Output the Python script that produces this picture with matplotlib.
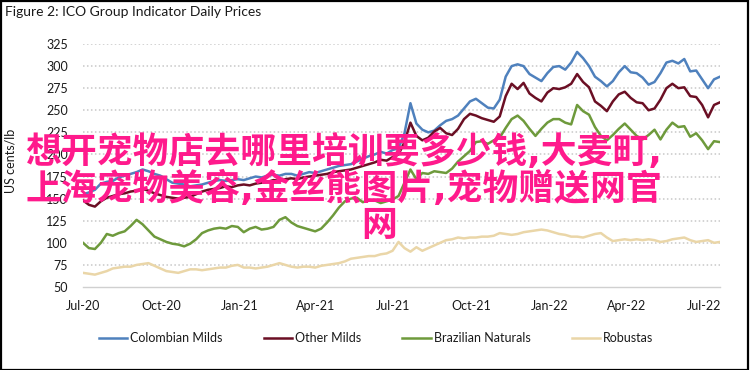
import matplotlib
matplotlib.use("Agg")
import matplotlib.pyplot as plt
import matplotlib.dates as mdates
import pandas as pd
from matplotlib.patches import Rectangle

# weekly readings (US cents/lb), starting 2020-07-01
colombian = [155, 157, 160, 167, 169, 170, 174, 176, 178, 180, 183, 181,
             178, 176, 172, 168, 167, 166, 164, 165, 166, 168, 170, 171,
             170, 171, 172, 171, 173, 175, 174, 176, 177, 176, 178, 178,
             176, 178, 180, 179, 181, 183, 185, 187, 188, 189, 192, 195,
             198, 200, 203, 201, 205, 207, 224, 258, 235, 228, 225, 227,
             233, 238, 240, 244, 252, 260, 263, 258, 253, 252, 262, 288,
             300, 302, 300, 291, 287, 283, 292, 299, 300, 296, 304, 316,
             309, 300, 288, 283, 277, 283, 293, 300, 293, 292, 287, 279,
             282, 292, 304, 306, 303, 308, 294, 295, 285, 275, 285, 288]
other_milds = [148, 143, 141, 147, 151, 153, 155, 156, 158, 159, 161, 159,
               156, 154, 152, 151, 150, 151, 152, 155, 158, 160, 161, 162,
               164, 163, 165, 166, 165, 167, 168, 169, 171, 170, 172, 173,
               172, 174, 175, 176, 177, 178, 180, 181, 182, 183, 185, 187,
               189, 191, 194, 193, 197, 200, 214, 236, 221, 216, 219, 226,
               230, 224, 222, 229, 240, 246, 244, 241, 239, 237, 243, 266,
               280, 274, 281, 269, 264, 260, 270, 275, 274, 276, 280, 291,
               282, 276, 260, 255, 249, 260, 268, 271, 264, 259, 258, 250,
               252, 262, 275, 280, 275, 276, 266, 265, 256, 242, 256, 259]
brazilian = [100, 94, 93, 100, 110, 108, 111, 113, 119, 126, 121, 114,
             107, 104, 101, 99, 98, 96, 99, 104, 111, 114, 116, 117,
             116, 119, 118, 112, 116, 118, 115, 116, 118, 126, 129, 123,
             119, 117, 115, 113, 116, 123, 131, 140, 147, 150, 151, 146,
             148, 148, 145, 147, 149, 153, 168, 183, 172, 179, 178, 181,
             180, 179, 184, 192, 198, 204, 214, 215, 212, 216, 219, 230,
             240, 244, 238, 229, 221, 229, 236, 240, 240, 236, 234, 256,
             249, 245, 231, 221, 216, 222, 229, 235, 228, 221, 217, 222,
             228, 217, 228, 236, 231, 232, 220, 224, 216, 206, 215, 214]
robustas = [66, 65, 64, 66, 68, 71, 72, 73, 73, 75, 76, 77,
            74, 71, 68, 67, 66, 68, 70, 70, 69, 70, 71, 72,
            72, 74, 75, 72, 72, 71, 72, 73, 75, 77, 75, 73,
            72, 73, 73, 72, 74, 75, 76, 77, 79, 82, 83, 84,
            85, 85, 87, 88, 91, 101, 94, 90, 95, 91, 94, 97,
            100, 103, 104, 106, 105, 106, 106, 107, 107, 108, 111, 110,
            109, 110, 112, 113, 114, 115, 114, 112, 110, 109, 107, 107,
            106, 108, 110, 111, 106, 102, 103, 104, 103, 104, 103, 104,
            103, 101, 102, 104, 105, 106, 103, 101, 102, 103, 100, 101]

names = ["Colombian Milds", "Other Milds", "Brazilian Naturals", "Robustas"]
colors = ["#4f81bd", "#6b0f24", "#6e9a3c", "#ead6a8"]
y_ticks = [50, 75, 100, 125, 150, 175, 200, 225, 250, 275, 300, 325]

overlay_lines = ["想开宠物店去哪里培训要多少钱,大麦町,",
                 "上海宠物美容,金丝熊图片,宠物赠送网官",
                 "网"]

dates = pd.date_range("2020-07-01", periods=len(colombian), freq="7D")
tick_dates = pd.date_range("2020-07-01", "2022-07-01", freq="3MS")

plt.rcParams["font.family"] = ["Lato", "DejaVu Sans"]

W, H = 751, 370
fig = plt.figure(figsize=(W / 100, H / 100), dpi=100)
ax = fig.add_axes([83 / W, 1 - 287 / H, (720 - 83) / W, (287 - 44) / H])

for vals, name, c in zip([colombian, other_milds, brazilian, robustas], names, colors):
    ax.plot(dates, vals, color=c, lw=1.8, label=name, solid_joinstyle="round")

ax.set_xlim(dates[0], dates[-1])
ax.set_ylim(50, 325)
ax.set_yticks(y_ticks)
ax.set_xticks(tick_dates)
ax.xaxis.set_major_formatter(mdates.DateFormatter("%b-%y"))
for y in y_ticks[1:]:
    ax.axhline(y, color="#c8c8c8", lw=1.1, ls=(0, (1, 1.6)), zorder=0)
for s in ["top", "right", "left"]:
    ax.spines[s].set_visible(False)
ax.spines["bottom"].set_color("#d0d0d0")
ax.spines["bottom"].set_linewidth(1)
ax.tick_params(length=0, labelsize=9, colors="#1a1a1a")
ax.tick_params(axis="y", pad=11)
ax.tick_params(axis="x", pad=9)
ax.set_ylabel("US cents/lb", fontsize=9, color="#1a1a1a")
ax.yaxis.set_label_coords(-0.105, 0.52)

fig.legend(loc="center", bbox_to_anchor=(376 / W, 1 - 338 / H), ncol=4,
           frameon=False, fontsize=9, handlelength=2.25, handletextpad=0.25,
           columnspacing=3.3, labelcolor="#1a1a1a")

fig.text(5 / W, 1 - 12 / H, "Figure 2: ICO Group Indicator Daily Prices",
         fontsize=10, color="#1a1a1a", va="center", ha="left")

fig.patches.append(Rectangle((0.5 / W, 0.5 / H), (W - 4) / W, (H - 1.5) / H,
                             transform=fig.transFigure, fill=False,
                             edgecolor="black", lw=1.6))

# pink overlay: narrow commas from DejaVu, CJK glyphs from Noto
pink = "#ff1a8c"
cjk = ["DejaVu Sans", "Noto Sans CJK SC"]
fs = 25.8
fig.text(25 / W, 1 - 152 / H, overlay_lines[0], fontsize=fs, color=pink,
         family=cjk, weight="bold", va="center", ha="left", zorder=10)
fig.text(25 / W, 1 - 189 / H, overlay_lines[1], fontsize=fs, color=pink,
         family=cjk, weight="bold", va="center", ha="left", zorder=10)
fig.text(361 / W, 1 - 226 / H, overlay_lines[2], fontsize=fs, color=pink,
         family=cjk, weight="bold", va="center", ha="left", zorder=10)

fig.savefig("out.png", dpi=100)
